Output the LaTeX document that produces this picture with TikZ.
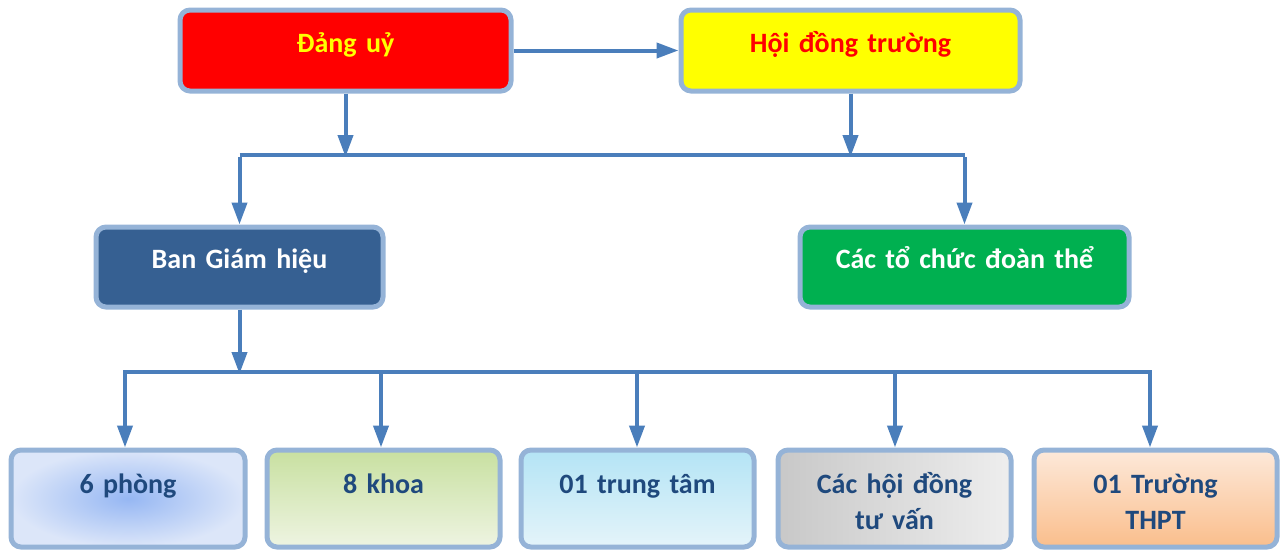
\documentclass[tikz,border=0pt]{standalone}
\usepackage{fontspec}
\setmainfont{Carlito}
\usetikzlibrary{arrows.meta}
\definecolor{bord}{HTML}{95B3D7}
\definecolor{arrc}{HTML}{4A7EBB}
\definecolor{dblue}{HTML}{366092}
\definecolor{gr}{HTML}{00B050}
\definecolor{txtb}{HTML}{1F497D}
\definecolor{yel}{HTML}{FFFF00}
\definecolor{rd}{HTML}{FF0000}
\tikzset{
  box/.style={draw=bord, line width=5pt, rounded corners=10pt, inner sep=0pt},
  lbl/.style={font=\fontsize{28}{36}\selectfont\bfseries, anchor=base, inner sep=0pt, text width=240pt, align=center},
  conn/.style={draw=arrc, line width=4pt},
  arr/.style={conn, -{Triangle[width=15pt,length=22pt]}},
}
\begin{document}
\begin{tikzpicture}[x=1pt,y=-1pt]
\useasboundingbox (0,0) rectangle (1286,550);
% top boxes
\node[box, fill=rd, minimum width=331pt, minimum height=81pt] (dang) at (345.5,50.5) {};
\node[box, fill=yel, minimum width=339pt, minimum height=81pt] (hoi) at (850.5,50.5) {};
\node[lbl, text=yel] (tdang) at (345.5,52.5) {Đảng uỷ};
\node[lbl, text=rd, text width=330pt] (thoi) at (850.5,52.5) {Hội đồng trường};
% second level
\node[box, fill=dblue, minimum width=287pt, minimum height=80pt] (bgh) at (239.5,267) {};
\node[box, fill=gr, minimum width=329pt, minimum height=80pt] (org) at (964.5,267) {};
\node[lbl, text=white] (tbgh) at (239.5,268.5) {Ban Giám hiệu};
\node[lbl, text=white, text width=320pt] (torg) at (964.5,268.5) {Các tổ chức đoàn thể};
% bottom boxes
\node[box, shading=radial, inner color={rgb,255:red,150;green,183;blue,243}, outer color={rgb,255:red,220;green,230;blue,249}, minimum width=234pt, minimum height=97pt] (b1) at (128,498.5) {};
\node[box, shading angle=45, top color={rgb,255:red,200;green,224;blue,160}, bottom color={rgb,255:red,238;green,244;blue,226}, minimum width=233pt, minimum height=97pt] (b2) at (383.5,498.5) {};
\node[box, top color={rgb,255:red,180;green,228;blue,245}, bottom color={rgb,255:red,228;green,244;blue,250}, minimum width=233pt, minimum height=97pt] (b3) at (637.5,498.5) {};
\node[box, left color={rgb,255:red,200;green,200;blue,200}, right color={rgb,255:red,238;green,238;blue,238}, minimum width=233pt, minimum height=97pt] (b4) at (894.5,498.5) {};
\node[box, shading angle=135, top color={rgb,255:red,253;green,233;blue,218}, bottom color={rgb,255:red,250;green,190;blue,140}, minimum width=243pt, minimum height=97pt] (b5) at (1155.5,498.5) {};
\node[lbl, text=txtb, text width=225pt] (t1) at (128,493) {6 phòng};
\node[lbl, text=txtb, text width=225pt] (t2) at (383.5,493) {8 khoa};
\node[lbl, text=txtb, text width=225pt] (t3) at (637.5,493) {01 trung tâm};
\node[lbl, text=txtb, text width=225pt] (t4) at (894.5,493) {Các hội đồng\\tư vấn};
\node[lbl, text=txtb, text width=225pt] (t5) at (1155.5,493) {01 Trường\\THPT};
% junction coordinates
\coordinate (bar1) at (0,155);
\coordinate (bar2) at (0,372);
\coordinate (x1) at (125,372);
\coordinate (x2) at (381,372);
\coordinate (x3) at (637,372);
\coordinate (x4) at (895,372);
\coordinate (x5) at (1150,372);
% connectors
\draw[arr] (dang.east) -- (hoi.west);
\draw[conn] (bgh.north |- bar1) -- (org.north |- bar1);
\draw[arr] (dang.south) -- ([yshift=-2pt]dang.south |- bar1);
\draw[arr] (hoi.south) -- ([yshift=-2pt]hoi.south |- bar1);
\draw[arr] ([yshift=-2pt]bgh.north |- bar1) -- (bgh.north);
\draw[arr] ([yshift=-2pt]org.north |- bar1) -- (org.north);
\draw[arr] (bgh.south) -- ([yshift=-2pt]bgh.south |- bar2);
\draw[conn] ([xshift=-2pt]x1) -- ([xshift=2pt]x5);
\draw[arr] ([yshift=-2pt]x1) -- (x1 |- b1.north);
\draw[arr] ([yshift=-2pt]x2) -- (x2 |- b2.north);
\draw[arr] ([yshift=-2pt]x3) -- (x3 |- b3.north);
\draw[arr] ([yshift=-2pt]x4) -- (x4 |- b4.north);
\draw[arr] ([yshift=-2pt]x5) -- (x5 |- b5.north);
\end{tikzpicture}
\end{document}
